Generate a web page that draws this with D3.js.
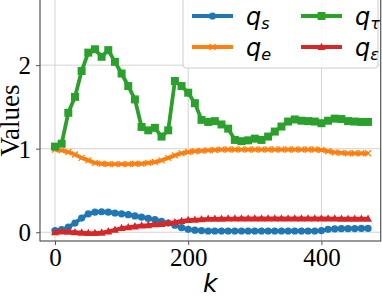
<!DOCTYPE html>
<html><head><meta charset="utf-8">
<script src="https://cdn.jsdelivr.net/npm/d3@7"></script>
<style>body{margin:0;background:#fff}svg{display:block}.serif{font-family:"Liberation Serif","Times New Roman",serif !important}</style>
</head><body>
<svg id="c" width="382" height="299"></svg>
<script>
const kValues = [0,10,20,30,40,50,60,70,80,90,100,110,120,130,140,150,160,170,180,190,200,210,220,230,240,250,260,270,280,290,300,310,320,330,340,350,360,370,380,390,400,410,420,430,440,450,460,470];
const qS = [0.02,0.03,0.06,0.11,0.17,0.22,0.24,0.245,0.24,0.23,0.22,0.21,0.195,0.18,0.165,0.15,0.13,0.11,0.085,0.055,0.035,0.025,0.02,0.015,0.015,0.015,0.015,0.015,0.015,0.015,0.015,0.015,0.015,0.015,0.015,0.015,0.015,0.015,0.015,0.015,0.02,0.035,0.04,0.042,0.043,0.044,0.045,0.045];
const qE = [0.99,0.98,0.96,0.93,0.89,0.86,0.83,0.82,0.815,0.815,0.815,0.815,0.82,0.82,0.83,0.84,0.86,0.89,0.92,0.945,0.96,0.97,0.975,0.98,0.985,0.99,0.99,0.99,0.99,0.99,0.99,0.99,0.99,0.99,0.99,0.99,0.99,0.99,0.99,0.99,0.985,0.97,0.955,0.95,0.945,0.945,0.945,0.945];
const qTau = [1.025,1.06,1.43,1.62,1.93,2.15,2.19,2.10,2.18,2.04,1.90,1.75,1.59,1.26,1.22,1.25,1.145,1.22,1.81,1.75,1.67,1.545,1.345,1.32,1.33,1.29,1.24,1.105,1.09,1.10,1.12,1.105,1.145,1.205,1.265,1.325,1.35,1.335,1.33,1.325,1.305,1.335,1.36,1.355,1.33,1.325,1.32,1.32];
const qEps = [0.0,0.01,0.005,0.0,-0.005,-0.01,-0.01,-0.005,0.01,0.03,0.05,0.06,0.07,0.08,0.085,0.095,0.10,0.11,0.12,0.135,0.145,0.15,0.155,0.16,0.16,0.162,0.163,0.164,0.165,0.165,0.165,0.165,0.165,0.165,0.165,0.165,0.165,0.165,0.165,0.165,0.165,0.165,0.163,0.162,0.162,0.162,0.162,0.162];
const xTicks = [0,200,400];
const yTicks = [0,1,2];
const seriesNames = ["s","e","τ","ε"];
const seriesColors = ["#1f77b4","#ff7f0e","#2ca02c","#d62728"];
const seriesMarkers = ["circle","x","square","triangle"];

const svg = d3.select("#c");
const L = 40, R = 380.7, T = 0, B = 241;
const x = d3.scaleLinear().domain([-22.5, 489]).range([L, R]);
const y = d3.scaleLinear().domain([-0.105, 2.78]).range([B, T]);
const SERIF = "Liberation Serif";
const SANS = "DejaVu Sans";

// grid
const g = svg.append("g");
g.selectAll(".gx").data(xTicks).enter().append("line")
  .attr("x1", d=>x(d)).attr("x2", d=>x(d)).attr("y1", T).attr("y2", B)
  .attr("stroke", "#d3d3d3").attr("stroke-width", 1);
g.selectAll(".gy").data(yTicks).enter().append("line")
  .attr("x1", L).attr("x2", R).attr("y1", d=>y(d)).attr("y2", d=>y(d))
  .attr("stroke", "#d3d3d3").attr("stroke-width", 1);

// axes
const xAxis = d3.axisBottom(x).tickValues(xTicks).tickFormat(d3.format("d")).tickSize(4).tickPadding(3);
const yAxis = d3.axisLeft(y).tickValues(yTicks).tickFormat(d3.format("d")).tickSize(4).tickPadding(5);
const ax = svg.append("g").attr("transform", `translate(0,${B})`).call(xAxis);
const ay = svg.append("g").attr("transform", `translate(${L},0)`).call(yAxis);
[ax, ay].forEach(a => {
  a.attr("font-family", SERIF).attr("font-size", 25);
  a.select(".domain").remove();
  a.selectAll("line").attr("stroke", "#555").attr("stroke-width", 1);
  a.selectAll("text").attr("class", "serif").attr("font-family", SERIF).attr("font-size", 25).attr("fill", "#000");
});
ay.selectAll("text").attr("dy", "0.34em");

// spines
svg.append("rect").attr("x", L).attr("y", T - 2).attr("width", R - L).attr("height", B - T + 2)
  .attr("fill", "none").attr("stroke", "#555").attr("stroke-width", 1.2);

const seriesData = [qS, qE, qTau, qEps];
svg.append("clipPath").attr("id", "clp").append("rect")
  .attr("x", L).attr("y", T).attr("width", R - L).attr("height", B - T);

function drawMarker(sel, type, color, cx, cy) {
  if (type === "circle") sel.append("circle").attr("cx", cx).attr("cy", cy).attr("r", 3.6).attr("fill", color);
  else if (type === "square") sel.append("rect").attr("x", cx - 4).attr("y", cy - 4).attr("width", 8).attr("height", 8).attr("fill", color);
  else if (type === "triangle") sel.append("path").attr("d", `M${cx},${cy-4.3}L${cx+4},${cy+3}L${cx-4},${cy+3}Z`).attr("fill", color);
  else if (type === "x") sel.append("path").attr("d", `M${cx-3},${cy-3}L${cx+3},${cy+3}M${cx-3},${cy+3}L${cx+3},${cy-3}`).attr("stroke", color).attr("stroke-width", 1.3);
}

const plot = svg.append("g").attr("clip-path", "url(#clp)");
seriesData.forEach((vals, i) => {
  const pts = kValues.map((k, j) => [k, vals[j]]);
  const line = d3.line().x(d => x(d[0])).y(d => y(d[1]));
  const gg = plot.append("g");
  gg.append("path").attr("d", line(pts)).attr("fill", "none")
    .attr("stroke", seriesColors[i]).attr("stroke-width", 3.8).attr("stroke-linejoin", "round");
  pts.forEach(p => drawMarker(gg, seriesMarkers[i], seriesColors[i], x(p[0]), y(p[1])));
});

// labels
svg.append("text").attr("x", (L + R) / 2).attr("y", 292).attr("text-anchor", "middle")
  .attr("font-family", SANS).attr("font-style", "italic").attr("font-size", 25).text("k");
svg.append("text").attr("class", "serif").attr("transform", `translate(19,${(T + B) / 2}) rotate(-90)`).attr("text-anchor", "middle")
  .attr("font-family", SERIF).attr("font-size", 27).text("Values");

// legend
const lg = svg.append("g");
lg.append("rect").attr("x", 183).attr("y", -4).attr("width", 195).attr("height", 72).attr("rx", 3)
  .attr("fill", "#fff").attr("fill-opacity", 0.85).attr("stroke", "#ccc").attr("stroke-width", 1);
const legPos = [[192, 16], [192, 47], [301, 16], [301, 47]];
seriesNames.forEach((nm, i) => {
  const [lx, ly] = legPos[i];
  lg.append("line").attr("x1", lx).attr("x2", lx + 41).attr("y1", ly).attr("y2", ly)
    .attr("stroke", seriesColors[i]).attr("stroke-width", 3.8);
  drawMarker(lg, seriesMarkers[i], seriesColors[i], lx + 20.5, ly);
  const t = lg.append("text").attr("x", lx + 54).attr("y", ly + 9)
    .attr("font-family", SANS).attr("font-style", "italic").attr("font-size", 24);
  t.append("tspan").text("q");
  t.append("tspan").attr("font-size", 16).attr("dy", 4).text(nm);
});
</script>
</body></html>
